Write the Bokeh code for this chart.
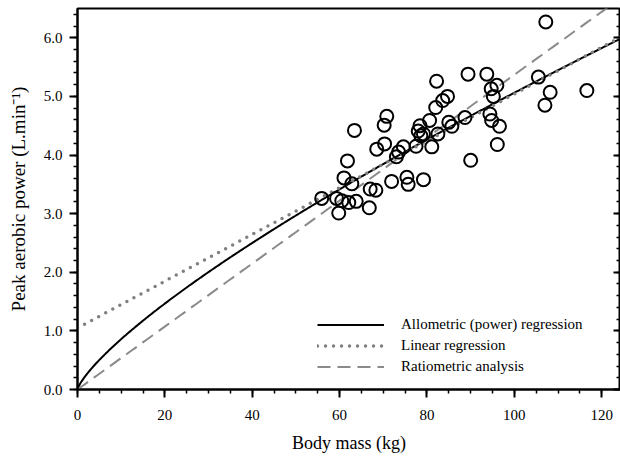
import numpy as np
from bokeh.plotting import figure
from bokeh.models import (SingleIntervalTicker, LinearAxis, PrintfTickFormatter,
                          Legend, LegendItem, CustomJSTickFormatter)
from bokeh.embed import file_html
from bokeh.resources import INLINE

# ---- data ----
body_mass = [107.2, 89.4, 93.7, 82.2, 105.5, 96.0, 94.7, 95.2, 108.2, 116.6,
             107.0, 84.7, 83.6, 82.0, 70.8, 70.2, 63.4, 88.7, 94.4, 94.8,
             96.6, 96.1, 90.0, 80.6, 85.0, 85.7, 78.4, 78.0, 78.6, 82.5,
             81.1, 77.5, 70.3, 68.5, 74.6, 73.5, 73.0, 61.8, 61.0, 62.8,
             71.9, 75.4, 75.7, 79.2, 67.0, 68.3, 55.9, 59.3, 60.5, 62.1,
             63.8, 59.8, 66.8, 79.2]
peak_power = [6.27, 5.38, 5.38, 5.26, 5.33, 5.19, 5.13, 5.00, 5.07, 5.10,
              4.85, 5.00, 4.93, 4.81, 4.66, 4.51, 4.42, 4.64, 4.70, 4.59,
              4.49, 4.18, 3.91, 4.59, 4.56, 4.49, 4.50, 4.41, 4.33, 4.36,
              4.14, 4.15, 4.19, 4.10, 4.14, 4.05, 3.97, 3.90, 3.61, 3.51,
              3.55, 3.62, 3.50, 3.58, 3.42, 3.40, 3.26, 3.26, 3.22, 3.19,
              3.21, 3.01, 3.10, 4.36]

# fitted model coefficients
allometric_a = 0.146
allometric_b = 0.77
linear_intercept = 1.05
linear_slope = 0.0399
ratiometric_k = 0.0537

legend_labels = ["Allometric (power) regression", "Linear regression", "Ratiometric analysis"]

FONT = "Liberation Serif"

p = figure(width=620, height=456, x_range=(0, 124.3), y_range=(0, 6.5),
           output_backend="svg", toolbar_location=None,
           min_border_left=77, min_border_right=0, min_border_top=8, min_border_bottom=67,
           x_axis_label="Body mass (kg)", y_axis_label="Peak aerobic power (L.min\u207b\u00b9)")
p.background_fill_color = "white"
p.border_fill_color = "white"
p.outline_line_color = "black"
p.outline_line_width = 2
p.xgrid.visible = False
p.ygrid.visible = False

xs = np.linspace(0, 125, 400)
y_allo = allometric_a * xs ** allometric_b
y_lin = linear_intercept + linear_slope * xs
y_ratio = ratiometric_k * xs

r_allo = p.line(xs, y_allo, line_color="black", line_width=2)
r_lin = p.line(xs, y_lin, line_color="#808080", line_width=3.5, line_dash="0 8", line_cap="round")
r_ratio = p.line(xs, y_ratio, line_color="#8a8a8a", line_width=2, line_dash="13 7")

p.scatter(body_mass, peak_power, size=13, fill_color=None, line_color="black", line_width=2)

# axes
xa = p.xaxis[0]
xa.ticker = SingleIntervalTicker(interval=20, num_minor_ticks=4)
ya = p.yaxis[0]
ya.ticker = SingleIntervalTicker(interval=1, num_minor_ticks=5)
ya.formatter = PrintfTickFormatter(format="%.1f")
for ax in (xa, ya):
    ax.axis_line_width = 2
    ax.axis_line_color = "black"
    ax.major_tick_line_width = 2
    ax.minor_tick_line_width = 1.5
    ax.major_tick_out = 8
    ax.major_tick_in = 0
    ax.minor_tick_out = 4
    ax.minor_tick_in = 0
    ax.major_label_text_font = FONT
    ax.major_label_text_font_size = "15px"
    ax.major_label_text_color = "black"
    ax.axis_label_text_font = FONT
    ax.axis_label_text_font_style = "normal"
    ax.axis_label_text_color = "black"
xa.axis_label_text_font_size = "18px"
ya.axis_label_text_font_size = "19px"
xa.major_label_standoff = 12
xa.axis_label_standoff = 10
ya.major_label_standoff = 7
ya.axis_label_standoff = 12

ra = LinearAxis(ticker=SingleIntervalTicker(interval=1, num_minor_ticks=5),
                formatter=CustomJSTickFormatter(code="return ''"),
                major_label_text_font_size="0px", major_label_standoff=0,
                axis_line_color=None, major_tick_in=7, major_tick_out=0,
                minor_tick_in=4, minor_tick_out=0,
                major_tick_line_width=2, minor_tick_line_width=1.5)
p.add_layout(ra, "right")

legend = Legend(items=[LegendItem(label=legend_labels[0], renderers=[r_allo]),
                       LegendItem(label=legend_labels[1], renderers=[r_lin]),
                       LegendItem(label=legend_labels[2], renderers=[r_ratio])],
                location=(240, 12), orientation="vertical",
                glyph_width=67, glyph_height=21, label_height=21, spacing=0,
                label_standoff=17, padding=0, margin=0,
                border_line_color=None, background_fill_alpha=0,
                label_text_font=FONT, label_text_font_size="15px", label_text_color="black")
p.add_layout(legend)

open("out.html", "w").write(file_html(p, INLINE))
